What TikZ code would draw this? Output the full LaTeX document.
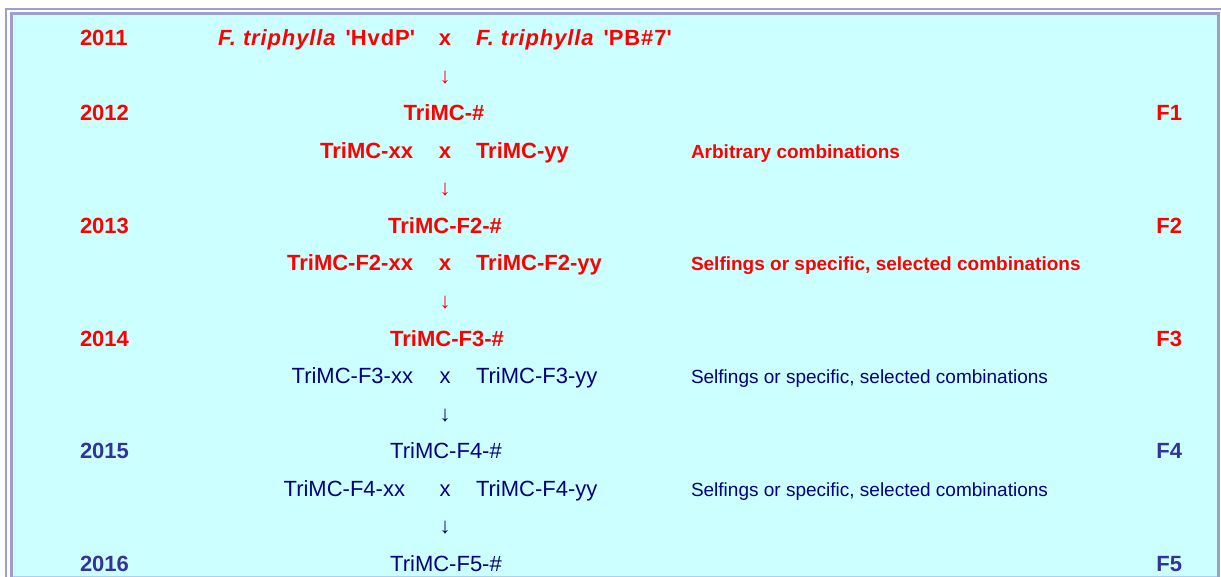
\documentclass[tikz,border=0pt]{standalone}
\usepackage{fontspec}
\setmainfont{Liberation Sans}
\begin{document}
\begin{tikzpicture}[x=1pt, y=-1pt,
    every node/.style={inner sep=0pt, outer sep=0pt},
    big/.style={font=\fontsize{22}{24}\selectfont},
    small/.style={font=\fontsize{19}{21}\selectfont},
    year/.style={big, anchor=base west, font=\fontsize{22}{24}\selectfont\bfseries},
    gen/.style={big, anchor=base east, font=\fontsize{22}{24}\selectfont\bfseries},
    mid/.style={big, anchor=base},
    lft/.style={big, anchor=base east},
    rgt/.style={big, anchor=base west},
    note/.style={small, anchor=base west},
    parent/.style={font=\fontsize{22}{24}\selectfont\addfontfeatures{LetterSpace=4}\bfseries}
]

    \definecolor{myred}{RGB}{255, 0, 0}
    \definecolor{myblue}{RGB}{51, 51, 153}
    \definecolor{mynavy}{RGB}{0, 0, 128}
    \definecolor{myframe}{RGB}{158, 158, 210}
    \definecolor{myfill}{RGB}{204, 255, 255}
    \definecolor{myedge}{RGB}{170, 210, 240}

    \useasboundingbox (0,0) rectangle (1221,577);

    % frame
    \fill [white] (0,0) rectangle (1221,577);
    \fill [myfill] (13,15) rectangle (1217,576);
    \draw [myframe, line width=2pt] (6,577) -- (6,9) -- (1221,9);
    \draw [myframe, line width=3pt] (11.5,577) -- (11.5,14) -- (1218,14) -- (1218,577);
    \draw [myedge, line width=1pt] (13,576) -- (1217,576);

    % years
    \node (y2011) at (80,46) [year, myred] {2011};
    \node (y2012) at (80,121) [year, myred] {2012};
    \node (y2013) at (80,233.5) [year, myred] {2013};
    \node (y2014) at (80,346) [year, myred] {2014};
    \node (y2015) at (80,458.5) [year, myblue] {2015};
    \node (y2016) at (80,571) [year, myblue] {2016};

    % generations
    \node (f1) at (1182,121) [gen, myred] {F1};
    \node (f2) at (1182,233.5) [gen, myred] {F2};
    \node (f3) at (1182,346) [gen, myred] {F3};
    \node (f4) at (1182,458.5) [gen, myblue] {F4};
    \node (f5) at (1182,571) [gen, myblue] {F5};

    % parents
    \node (p1) at (415,46) [lft, parent, myred] {\itshape F. triphylla\hspace{10pt}\upshape\textquotesingle HvdP\textquotesingle};
    \node (x1) at (445,46) [mid, myred] {\bfseries x};
    \node (p2) at (476,46) [rgt, parent, myred] {\itshape F. triphylla\hspace{10pt}\upshape\textquotesingle PB\#7\textquotesingle};
    \node (a1) at (445,83.5) [mid, myred] {↓};

    % F1
    \node (c1) at (444,121) [mid, myred] {\bfseries TriMC-\#};
    \node (c1l) at (413,158.5) [lft, myred] {\bfseries TriMC-xx};
    \node (x2) at (445,158.5) [mid, myred] {\bfseries x};
    \node (c1r) at (476,158.5) [rgt, myred] {\bfseries TriMC-yy};
    \node (n1) at (691,158.5) [note, myred] {\bfseries Arbitrary combinations};
    \node (a2) at (445,196) [mid, myred] {↓};

    % F2
    \node (c2) at (445,233.5) [mid, myred] {\bfseries TriMC-F2-\#};
    \node (c2l) at (413,271) [lft, myred] {\bfseries TriMC-F2-xx};
    \node (x3) at (445,271) [mid, myred] {\bfseries x};
    \node (c2r) at (476,271) [rgt, myred] {\bfseries TriMC-F2-yy};
    \node (n2) at (691,271) [note, myred] {\bfseries Selfings or specific, selected combinations};
    \node (a3) at (445,308.5) [mid, myred] {↓};

    % F3
    \node (c3) at (447,346) [mid, myred] {\bfseries TriMC-F3-\#};
    \node (c3l) at (413,383.5) [lft, mynavy] {TriMC-F3-xx};
    \node (x4) at (445,383.5) [mid, mynavy] {x};
    \node (c3r) at (476,383.5) [rgt, mynavy] {TriMC-F3-yy};
    \node (n3) at (691,383.5) [note, mynavy] {Selfings or specific, selected combinations};
    \node (a4) at (445,421) [mid, mynavy] {↓};

    % F4
    \node (c4) at (446,458.5) [mid, mynavy] {TriMC-F4-\#};
    \node (c4l) at (405,496) [lft, mynavy] {TriMC-F4-xx};
    \node (x5) at (445,496) [mid, mynavy] {x};
    \node (c4r) at (476,496) [rgt, mynavy] {TriMC-F4-yy};
    \node (n4) at (691,496) [note, mynavy] {Selfings or specific, selected combinations};
    \node (a5) at (445,533.5) [mid, mynavy] {↓};

    % F5
    \node (c5) at (446,571) [mid, mynavy] {TriMC-F5-\#};

\end{tikzpicture}
\end{document}
